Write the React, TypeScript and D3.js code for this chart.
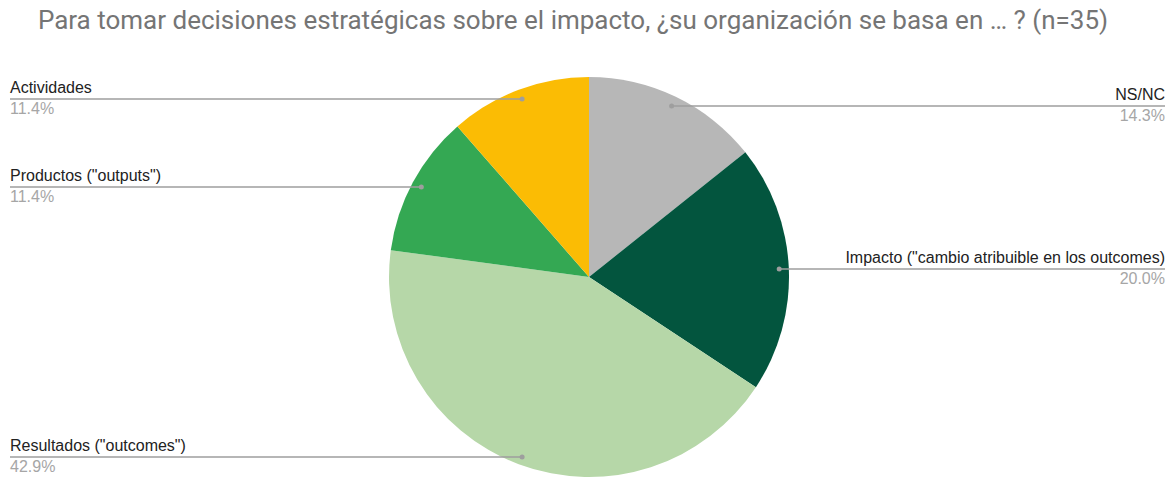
import React, { useEffect, useRef } from 'react';
import * as d3 from 'd3';

const categories = [
  'NS/NC',
  'Impacto ("cambio atribuible en los outcomes)',
  'Resultados ("outcomes")',
  'Productos ("outputs")',
  'Actividades',
];
const values = [5, 7, 15, 4, 4];
const colors = ['#b7b7b7', '#03553e', '#b6d7a8', '#34a853', '#fbbc04'];
// label placement: side and y of the leader line
const labelSide = ['right', 'right', 'left', 'left', 'left'];
const labelLineY = [106, 269, 457, 187, 99];

const title = 'Para tomar decisiones estratégicas sobre el impacto, ¿su organización se basa en … ? (n=35)';

const App: React.FC = () => {
  const svgRef = useRef<SVGSVGElement>(null);

  useEffect(() => {
    if (!svgRef.current) return;
    const width = 1174;
    const height = 479;
    const cx = 589;
    const cy = 277;
    const radius = 200;

    const svg = d3.select(svgRef.current);
    svg.selectAll('*').remove();
    svg.attr('width', width).attr('height', height);

    svg.append('rect').attr('width', width).attr('height', height).attr('fill', 'white');

    svg.append('text')
      .attr('x', 573)
      .attr('y', 29)
      .attr('text-anchor', 'middle')
      .attr('fill', '#757575')
      .attr('font-family', 'Roboto, sans-serif')
      .attr('font-size', '26px')
      .text(title);

    const total = d3.sum(values);
    const data = categories.map((c, i) => ({ c, v: values[i], i }));

    const pie = d3.pie<any>().value((d) => d.v).sort(null);
    const arcs = pie(data);
    const arc = d3.arc<any>().innerRadius(0).outerRadius(radius);

    const g = svg.append('g').attr('transform', `translate(${cx},${cy})`);

    g.selectAll('path')
      .data(arcs)
      .enter()
      .append('path')
      .attr('d', (d) => arc(d)!)
      .attr('fill', (d) => colors[d.data.i]);

    const dotR = radius * 0.952;
    const fmt = d3.format('.1f');

    arcs.forEach((a) => {
      const i = a.data.i;
      const mid = (a.startAngle + a.endAngle) / 2;
      const dx = cx + dotR * Math.sin(mid);
      const ly = labelLineY[i];
      const right = labelSide[i] === 'right';
      const xEnd = right ? 1165 : 10;

      svg.append('line')
        .attr('x1', dx)
        .attr('y1', ly)
        .attr('x2', xEnd)
        .attr('y2', ly)
        .attr('stroke', '#9e9e9e')
        .attr('stroke-width', 1.5);
      svg.append('circle')
        .attr('cx', dx)
        .attr('cy', ly)
        .attr('r', 2.5)
        .attr('fill', '#9e9e9e');

      svg.append('text')
        .attr('x', xEnd)
        .attr('y', ly - 6)
        .attr('text-anchor', right ? 'end' : 'start')
        .attr('fill', '#222222')
        .attr('font-family', 'Arial, "Liberation Sans", sans-serif')
        .attr('font-size', '16px')
        .text(a.data.c);
      svg.append('text')
        .attr('x', xEnd)
        .attr('y', ly + 15)
        .attr('text-anchor', right ? 'end' : 'start')
        .attr('fill', '#a6a6a6')
        .attr('font-family', 'Arial, "Liberation Sans", sans-serif')
        .attr('font-size', '16px')
        .text(fmt((a.data.v / total) * 100) + '%');
    });
  }, []);

  return <svg ref={svgRef} style={{ display: 'block', position: 'absolute', left: 0, top: 0 }}></svg>;
};

export default App;
